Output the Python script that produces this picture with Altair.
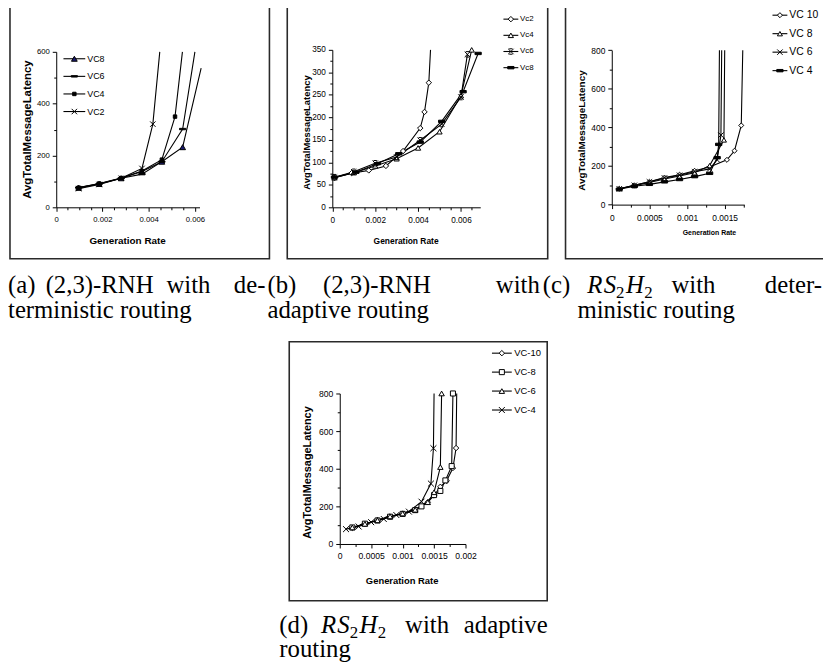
import altair as alt
import pandas as pd

# ---------------- data ----------------
# (a) (2,3)-RNH, deterministic routing
A_SERIES = ["VC8", "VC6", "VC4", "VC2"]
A_VC8_X = [0.00097, 0.00186, 0.00281, 0.00371, 0.00457, 0.00547, 0.00627]
A_VC8_Y = [75, 90, 112, 138, 176, 232, 537]
A_VC6_X = [0.00097, 0.00186, 0.00281, 0.00371, 0.00457, 0.00547, 0.0060]
A_VC6_Y = [76, 91, 112, 128, 176, 302, 620]
A_VC4_X = [0.00097, 0.00186, 0.00281, 0.00371, 0.00457, 0.00514, 0.00546]
A_VC4_Y = [76, 92, 113, 140, 184, 350, 620]
A_VC2_X = [0.00097, 0.00186, 0.00281, 0.00371, 0.00418, 0.00448]
A_VC2_Y = [72, 88, 112, 150, 321, 620]
A_X_TICKS = [0, 0.0005, 0.001, 0.0015, 0.002, 0.0025, 0.003, 0.0035, 0.004, 0.0045, 0.005, 0.0055, 0.006]
A_X_LABELS = [0, 0.002, 0.004, 0.006]
A_Y_TICKS = [0, 100, 200, 300, 400, 500, 600]
A_Y_LABELS = [0, 200, 400, 600]

# (b) (2,3)-RNH, adaptive routing
B_SERIES = ["Vc2", "Vc4", "Vc6", "Vc8"]
B_VC2_X = [0.0001, 0.0009, 0.0017, 0.0025, 0.0033, 0.0041, 0.0043, 0.0045, 0.00458]
B_VC2_Y = [66, 76, 82, 92, 125, 176, 212, 277, 500]
B_VC4_X = [0.0001, 0.001, 0.002, 0.003, 0.004, 0.005, 0.006, 0.0065]
B_VC4_Y = [66, 77, 92, 108, 132, 168, 248, 350]
B_VC6_X = [0.0001, 0.001, 0.002, 0.003, 0.0041, 0.0051, 0.006, 0.0063]
B_VC6_Y = [67, 79, 98, 112, 149, 185, 245, 340]
B_VC8_X = [0.0001, 0.0011, 0.0021, 0.0031, 0.0041, 0.0051, 0.0061, 0.0068]
B_VC8_Y = [67, 78, 97, 119, 145, 191, 257, 342]
B_X_TICKS = [0, 0.0005, 0.001, 0.0015, 0.002, 0.0025, 0.003, 0.0035, 0.004, 0.0045, 0.005, 0.0055, 0.006, 0.0065]
B_X_LABELS = [0, 0.002, 0.004, 0.006]
B_Y_TICKS = [0, 25, 50, 75, 100, 125, 150, 175, 200, 225, 250, 275, 300, 325, 350]
B_Y_LABELS = [0, 50, 100, 150, 200, 250, 300, 350]

# (c) RS2H2, deterministic routing
C_SERIES = ["VC 10", "VC 8", "VC 6", "VC 4"]
C_VC10_X = [0.0001, 0.0003, 0.0005, 0.0007, 0.0009, 0.0011, 0.0013, 0.00153, 0.00163, 0.00172, 0.00174]
C_VC10_Y = [82, 100, 118, 140, 155, 175, 195, 232, 279, 410, 1200]
C_VC8_X = [0.0001, 0.0003, 0.0005, 0.0007, 0.0009, 0.0011, 0.0013, 0.00149, 0.0015]
C_VC8_Y = [82, 98, 115, 133, 148, 165, 202, 335, 1200]
C_VC6_X = [0.0001, 0.0003, 0.0005, 0.0007, 0.0009, 0.0011, 0.0013, 0.0014, 0.00145, 0.00146]
C_VC6_Y = [82, 100, 118, 138, 152, 170, 185, 232, 360, 1200]
C_VC4_X = [0.0001, 0.0003, 0.0005, 0.0007, 0.0009, 0.0011, 0.0013, 0.0014, 0.00142, 0.00143]
C_VC4_Y = [80, 95, 105, 118, 130, 145, 162, 243, 312, 1200]
C_X_TICKS = [0, 0.00025, 0.0005, 0.00075, 0.001, 0.00125, 0.0015, 0.00175]
C_X_LABELS = [0, 0.0005, 0.001, 0.0015]
C_Y_TICKS = [0, 100, 200, 300, 400, 500, 600, 700, 800]
C_Y_LABELS = [0, 200, 400, 600, 800]

# (d) RS2H2, adaptive routing
D_SERIES = ["VC-10", "VC-8", "VC-6", "VC-4"]
D_VC10_X = [0.0002, 0.0004, 0.0006, 0.0008, 0.001, 0.0012, 0.0014, 0.0015, 0.0016, 0.0017, 0.0018, 0.00185, 0.00186]
D_VC10_Y = [86, 106, 128, 146, 162, 185, 222, 258, 304, 336, 404, 510, 1200]
D_VC8_X = [0.0002, 0.0004, 0.0006, 0.0008, 0.001, 0.0012, 0.0013, 0.0015, 0.0016, 0.00168, 0.00178, 0.0018]
D_VC8_Y = [88, 108, 125, 145, 160, 180, 200, 260, 282, 338, 414, 800]
D_VC6_X = [0.0002, 0.0004, 0.0006, 0.0008, 0.001, 0.0012, 0.0014, 0.0015, 0.0016, 0.00162]
D_VC6_Y = [88, 107, 126, 147, 162, 182, 222, 275, 409, 800]
D_VC4_X = [0.0001, 0.0003, 0.0005, 0.0007, 0.0009, 0.0011, 0.0013, 0.00145, 0.00149, 0.0015]
D_VC4_Y = [79, 93, 116, 133, 154, 172, 225, 321, 509, 1200]
D_X_TICKS = [0, 0.00025, 0.0005, 0.00075, 0.001, 0.00125, 0.0015, 0.00175, 0.002]
D_X_LABELS = [0, 0.0005, 0.001, 0.0015, 0.002]
D_Y_TICKS = [0, 100, 200, 300, 400, 500, 600, 700, 800]
D_Y_LABELS = [0, 200, 400, 600, 800]

Y_TITLE = "AvgTotalMessageLatency"
X_TITLE = "Generation Rate"

# ---------------- styling helpers ----------------
W, H = 823, 664
SANS = "Liberation Sans"
SERIF = "Liberation Serif"

P_X = "M-1,-1L1,1M-1,1L1,-1"
P_STAR = "M-1,-1L1,1M-1,1L1,-1M-0.6,-1L0.6,-1M-0.6,1L0.6,1"
P_DASH = "M-1,-0.38L1,-0.38L1,0.38L-1,0.38Z"
P_THIN = "M-1,-0.22L1,-0.22L1,0.22L-1,0.22Z"


def table(names, xs, ys):
    rows = []
    for n, xv, yv in zip(names, xs, ys):
        for i, (a, b) in enumerate(zip(xv, yv)):
            rows.append({"series": n, "i": i, "x": a, "y": b})
    return pd.DataFrame(rows)


def arr(vals):
    return "[" + ",".join(repr(v) for v in vals) + "]"


def make_axis(orient, ticks, labels, offset, fs, title_fs, tx, ty, pad):
    test = f"indexof({arr(labels)}, datum.value) >= 0"
    kw = dict(
        orient=orient, offset=offset, values=ticks,
        labelExpr=f"{test} ? ('' + datum.value) : ''",
        tickSize={"condition": {"test": test, "value": 4}, "value": 2.5},
        grid=False, domainColor="black", tickColor="black", domainWidth=1, tickWidth=1,
        labelColor="black", labelFont=SANS, labelFontSize=fs, labelPadding=pad,
        labelOverlap=False, labelFlush=False,
        title=X_TITLE if orient == "bottom" else Y_TITLE,
        titleFont=SANS, titleFontSize=title_fs, titleFontWeight="bold", titleColor="black",
        titleX=tx, titleY=ty, titleAlign="center", titleBaseline="middle",
    )
    if orient == "left":
        kw["titleAngle"] = 270
    return alt.Axis(**kw)


def marker_scales(names, shapes, fills, sizes):
    return dict(
        shape=alt.Shape("series:N", scale=alt.Scale(type="ordinal", domain=names, range=shapes), legend=None),
        fill=alt.Fill("series:N", scale=alt.Scale(type="ordinal", domain=names, range=fills), legend=None),
        size=alt.Size("series:N", scale=alt.Scale(type="ordinal", domain=names, range=sizes), legend=None),
    )


def make_panel(names, xs, ys, shapes, fills, sizes, L):
    df = table(names, xs, ys)
    xenc = alt.X("x:Q", scale=alt.Scale(domain=L["xdom"], range=L["xr"], nice=False, zero=False),
                 axis=make_axis("bottom", L["xt"], L["xl"], L["xr_y"] - H, L["fs"], L["xtfs"],
                                L["xtx"], L["xty"], L["xpad"]))
    yenc = alt.Y("y:Q", scale=alt.Scale(domain=L["ydom"], range=L["yr"], nice=False, zero=False, clamp=True),
                 axis=make_axis("left", L["yt"], L["yl"], -L["xr"][0], L["fs"], L["ytfs"],
                                L["ytx"] - L["xr"][0], L["yty"], L["ypad"]))
    lines = alt.Chart(df).mark_line(color="black", strokeWidth=1.1).encode(
        x=xenc, y=yenc, detail="series:N", order="i:Q")
    pts = alt.Chart(df).mark_point(filled=True, stroke="black", strokeWidth=1, opacity=1).encode(
        x=xenc, y=yenc, **marker_scales(names, shapes, fills, sizes)
    ).transform_filter(f"datum.y <= {L['ydom'][1]} && datum.x <= {L['xdom'][1]}")
    return alt.layer(lines, pts)


def make_legend(names, shapes, fills, sizes, G):
    df = pd.DataFrame({"series": names})
    yenc = alt.Y("series:N", sort=names,
                 scale=alt.Scale(type="point", domain=names, range=[G["y0"], G["y1"]], padding=0),
                 axis=None)
    rule = alt.Chart(df).mark_rule(color="black", strokeWidth=1.1).encode(
        x=alt.value(G["lx0"]), x2=alt.value(G["lx1"]), y=yenc)
    pts = alt.Chart(df).mark_point(filled=True, stroke="black", strokeWidth=1, opacity=1).encode(
        x=alt.value(G["mx"]), y=yenc, **marker_scales(names, shapes, fills, sizes))
    txt = alt.Chart(df).mark_text(align="left", baseline="middle", font=SANS,
                                  fontSize=G["fs"], color="black").encode(
        x=alt.value(G["tx"]), y=yenc, text="series:N")
    return alt.layer(rule, pts, txt)


one = pd.DataFrame({"k": [0]})


def frame(x0, x1, y0, y1):
    return alt.Chart(one).mark_rect(filled=False, stroke="#2a2a2a", strokeWidth=1.6).encode(
        x=alt.value(x0), x2=alt.value(x1), y=alt.value(y0), y2=alt.value(y1))


# ---------------- panels ----------------
A_SH = ["triangle-up", P_THIN, "square", P_X]
A_FI = ["#1a1a70", "black", "black", "white"]
A_SZ = [34, 40, 12, 30]
LA = dict(xdom=[0, 0.0062], xr=[48.7, 193.4], xr_y=198, xt=A_X_TICKS, xl=A_X_LABELS,
          ydom=[0, 600], yr=[198, 41], yt=A_Y_TICKS, yl=A_Y_LABELS,
          fs=7.8, xtfs=10, ytfs=11.5, xtx=120.3, xty=34, ytx=20, yty=119, xpad=4, ypad=3)
panel_a = make_panel(A_SERIES, [A_VC8_X, A_VC6_X, A_VC4_X, A_VC2_X],
                     [A_VC8_Y, A_VC6_Y, A_VC4_Y, A_VC2_Y], A_SH, A_FI, A_SZ, LA)
legend_a = make_legend(A_SERIES, A_SH, A_FI, A_SZ,
                       dict(y0=48, y1=101.3, lx0=56, lx1=78, mx=67, tx=80, fs=9))

B_SH = ["diamond", "triangle-up", P_STAR, P_DASH]
B_FI = ["white", "white", "white", "black"]
B_SZ = [30, 28, 30, 40]
LB = dict(xdom=[0, 0.0069], xr=[327.5, 476.9], xr_y=198, xt=B_X_TICKS, xl=B_X_LABELS,
          ydom=[0, 350], yr=[198, 39], yt=B_Y_TICKS, yl=B_Y_LABELS,
          fs=8.3, xtfs=8.5, ytfs=9.5, xtx=401.5, xty=34, ytx=301, yty=122, xpad=4, ypad=3)
panel_b = make_panel(B_SERIES, [B_VC2_X, B_VC4_X, B_VC6_X, B_VC8_X],
                     [B_VC2_Y, B_VC4_Y, B_VC6_Y, B_VC8_Y], B_SH, B_FI, B_SZ, LB)
legend_b = make_legend(B_SERIES, B_SH, B_FI, B_SZ,
                       dict(y0=8, y1=57, lx0=500.3, lx1=515.3, mx=507.8, tx=517, fs=8))

C_SH = ["diamond", "triangle-up", P_X, P_DASH]
C_FI = ["white", "white", "white", "black"]
C_SZ = [26, 26, 30, 40]
LC = dict(xdom=[0, 0.00176], xr=[609.7, 743.5], xr_y=195.3, xt=C_X_TICKS, xl=C_X_LABELS,
          ydom=[0, 800], yr=[195.3, 39.3], yt=C_Y_TICKS, yl=C_Y_LABELS,
          fs=8.5, xtfs=7, ytfs=10, xtx=707.8, xty=28.4, ytx=578.7, yty=120, xpad=5, ypad=3)
panel_c = make_panel(C_SERIES, [C_VC10_X, C_VC8_X, C_VC6_X, C_VC4_X],
                     [C_VC10_Y, C_VC8_Y, C_VC6_Y, C_VC4_Y], C_SH, C_FI, C_SZ, LC)
legend_c = make_legend(C_SERIES, C_SH, C_FI, C_SZ,
                       dict(y0=4, y1=60, lx0=772, lx1=787, mx=779.5, tx=789, fs=10.5))

D_SH = ["diamond", "square", "triangle-up", P_X]
D_FI = ["white", "white", "white", "white"]
D_SZ = [30, 26, 30, 36]
LD = dict(xdom=[0, 0.002], xr=[335, 462], xr_y=538, xt=D_X_TICKS, xl=D_X_LABELS,
          ydom=[0, 800], yr=[538, 386], yt=D_Y_TICKS, yl=D_Y_LABELS,
          fs=8.7, xtfs=9.5, ytfs=11, xtx=397.5, xty=37.3, ytx=302, yty=465.3, xpad=4, ypad=3)
panel_d = make_panel(D_SERIES, [D_VC10_X, D_VC8_X, D_VC6_X, D_VC4_X],
                     [D_VC10_Y, D_VC8_Y, D_VC6_Y, D_VC4_Y], D_SH, D_FI, D_SZ, LD)
legend_d = make_legend(D_SERIES, D_SH, D_FI, D_SZ,
                       dict(y0=345.3, y1=402.7, lx0=488.7, lx1=508.7, mx=498.7, tx=511.3, fs=9.5))

frames = [frame(2, 264, -5, 250), frame(282, 545, -5, 250), frame(563, 840, -5, 250),
          frame(284, 544.5, 333.7, 595.3)]

# ---------------- captions ----------------
CAP_LEFT = [("(a)", 0, 285), ("(2,3)-RNH", 38, 285), ("with", 160, 285),
            ("(b)", 262, 285), ("(2,3)-RNH", 318, 285),
            ("(c)", 540, 285), ("with", 670, 285),
            ("terministic routing", 0, 309.5), ("adaptive routing", 262, 309.5),
            ("ministic routing", 575, 309.5),
            ("(d)", 274, 628), ("with", 401, 628), ("routing", 274, 652)]
CAP_RIGHT = [("de-", 260, 285), ("with", 537, 285), ("deter-", 822, 285), ("adaptive", 545, 628)]
CAP_ITAL = [("R", 585, 285), ("S", 601.5, 285), ("H", 624, 285),
            ("R", 316, 628), ("S", 332.5, 628), ("H", 355, 628)]
CAP_SUB = [("2", 614, 290), ("2", 642.5, 290), ("2", 345, 633), ("2", 373.5, 633)]


def cap_layer(items, align, style, size):
    df = pd.DataFrame(items, columns=["t", "x", "y"])
    return alt.Chart(df).mark_text(align=align, baseline="alphabetic", font=SERIF,
                                   fontStyle=style, fontSize=size, color="black").encode(
        x=alt.X("x:Q", scale=None, axis=None), y=alt.Y("y:Q", scale=None, axis=None), text="t:N")


captions = [cap_layer(CAP_LEFT, "left", "normal", 25), cap_layer(CAP_RIGHT, "right", "normal", 25),
            cap_layer(CAP_ITAL, "left", "italic", 25), cap_layer(CAP_SUB, "left", "normal", 17)]

chart = alt.layer(
    *frames, panel_a, legend_a, panel_b, legend_b, panel_c, legend_c, panel_d, legend_d, *captions
).resolve_scale(
    x="independent", y="independent", shape="independent", fill="independent", size="independent"
).resolve_axis(
    x="independent", y="independent"
).properties(
    width=W, height=H, padding=0, autosize=alt.AutoSizeParams(type="none"), background="white"
).configure_view(strokeWidth=0)

chart.save("out.html", embed_options={"renderer": "svg", "actions": False})
